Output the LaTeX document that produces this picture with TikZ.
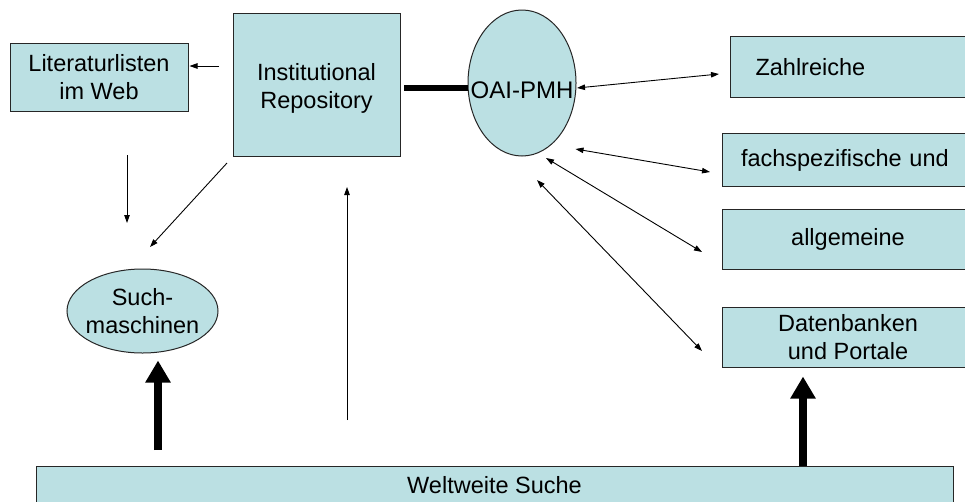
\documentclass[tikz,border=0pt]{standalone}
\usepackage{fontspec}
\setmainfont{Liberation Sans}
\usetikzlibrary{shapes.geometric,arrows.meta,calc}
\definecolor{boxfill}{RGB}{187,224,227}
\begin{document}
\begin{tikzpicture}[x=1pt,y=-1pt,
  txt/.style={font=\fontsize{23.5}{28}\selectfont, align=center},
  box/.style={draw=black!85, line width=1pt, fill=boxfill, txt, inner sep=0pt},
  oval/.style={ellipse, draw=black!85, line width=1pt, fill=boxfill, inner sep=0pt},
  arr/.style={line width=0.9pt, -{Triangle[length=8pt,width=5.5pt]}},
  darr/.style={line width=0.9pt, {Triangle[length=8pt,width=5.5pt]}-{Triangle[length=8pt,width=5.5pt]}},
  fat/.style={line width=8pt, -{Triangle[length=22pt,width=24pt]}}]
\useasboundingbox (0,0) rectangle (965,501);
\clip (0,0) rectangle (965,501);
\fill[white] (0,0) rectangle (965,501);

% nodes
\node[box, minimum width=178pt, minimum height=68pt] (lit) at (99,77) {Literaturlisten\\im Web};
\node[box, minimum width=167pt, minimum height=143pt,
      label={[txt, yshift=-4pt]center:Institutional\\Repository}] (ir) at (316.5,84.5) {};
\node[oval, minimum width=108pt, minimum height=146pt,
      label={[txt, font=\fontsize{24}{28}\selectfont, yshift=-7pt]center:OAI-PMH}] (oai) at (522,83) {};
\node[box, anchor=north west, minimum height=61pt, text width=240pt, inner xsep=25pt, align=left] (zahl) at (730,36) {Zahlreiche};
\node[box, anchor=north west, minimum height=53pt, text width=240pt, inner xsep=18.5pt, align=left] (fach) at (722,133) {fachspezifische und};
\node[box, minimum width=252pt, minimum height=60pt] (allg) at (848,239) {allgemeine};
\node[box, minimum width=252pt, minimum height=60pt] (daten) at (848,337) {Datenbanken\\und Portale};
\node[box, minimum width=917pt, minimum height=38pt] (welt) at (494.5,485) {Weltweite Suche};
\node[oval, minimum width=151pt, minimum height=84pt,
      label={[txt]center:Such-\\maschinen}] (such) at (142.5,311) {};

% free ends
\coordinate (a1) at (219,66);
\coordinate (a2s) at (127,155);
\coordinate (a2e) at (127,223);
\coordinate (a3s) at (227,163);
\coordinate (a3e) at (150,247);
\coordinate (a4s) at (347,420);
\coordinate (a4e) at (347,187);
\coordinate (t1) at (404,88);
\coordinate (b1s) at (577,88);
\coordinate (b1e) at (719,74);
\coordinate (b2s) at (575.5,149);
\coordinate (b2e) at (710,172);
\coordinate (b3s) at (546,158);
\coordinate (b3e) at (702,252);
\coordinate (b4s) at (537,180);
\coordinate (b4e) at (702,351);
\coordinate (f1) at (158,450);
\coordinate (f2) at (803,0);

% connectors
\draw[arr, shorten >=1pt] (a1) -- (a1 -| lit.east);
\draw[arr] (a2s) -- (a2e);
\draw[arr] (a3s) -- (a3e);
\draw[arr] (a4s) -- (a4e);
\draw[line width=6.5pt] (t1) -- (t1 -| oai.west);
\draw[darr] (b1s) -- (b1e);
\draw[darr] (b2s) -- (b2e);
\draw[darr] (b3s) -- (b3e);
\draw[darr] (b4s) -- (b4e);
\draw[fat, shorten >=7pt] (f1) -- (f1 |- such.south);
\draw[fat, shorten >=9pt] (f2 |- welt.north) -- (f2 |- daten.south);
\end{tikzpicture}
\end{document}
